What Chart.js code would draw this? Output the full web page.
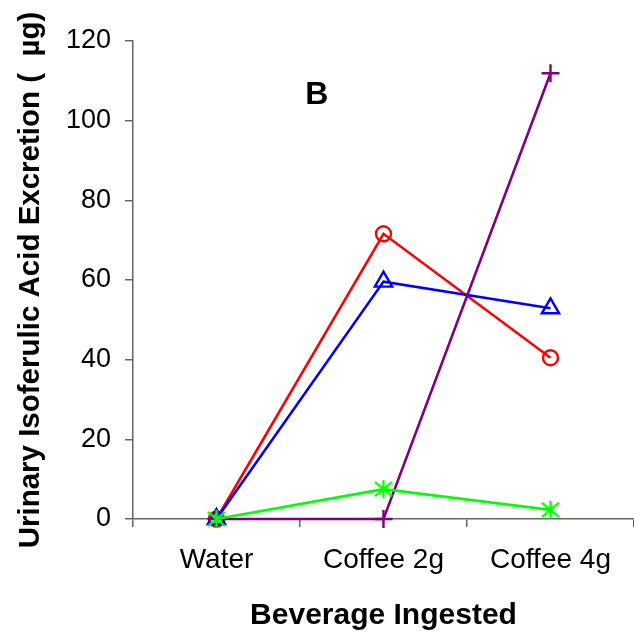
<!DOCTYPE html>
<html>
<head>
<meta charset="utf-8">
<script src="https://cdn.jsdelivr.net/npm/chart.js@4"></script>
<style>
html,body{margin:0;padding:0;background:#fff;}
#wrap{width:634px;height:634px;}
</style>
</head>
<body>
<div id="wrap"><canvas id="c" width="634" height="634"></canvas></div>
<script>
const categories = ['Water', 'Coffee 2g', 'Coffee 4g'];
const redCircle = [0, 71.6, 40.5];
const blueTriangle = [0, 59.6, 52.9];
const greenStar = [0, 7.5, 2.3];
const purplePlus = [0, 0, 111.9];
const yTicks = [0, 20, 40, 60, 80, 100, 120];
const panelLabel = 'B';
const panelLabelPos = { x: 0.6, y: 106.5 };

const FONT = '"Liberation Sans", Arial, sans-serif';

function asterisk(color) {
  const s = 24, c = document.createElement('canvas');
  c.width = s; c.height = s;
  const g = c.getContext('2d');
  g.strokeStyle = color; g.lineWidth = 2.4;
  const r = 9, m = s / 2;
  g.beginPath();
  g.moveTo(m, m - r); g.lineTo(m, m + r);
  const dx = r * 0.95, dy = r * 0.8;
  g.moveTo(m - dx, m - dy); g.lineTo(m + dx, m + dy);
  g.moveTo(m + dx, m - dy); g.lineTo(m - dx, m + dy);
  g.stroke();
  return c;
}

const labelPlugin = {
  id: 'panelLabel',
  afterDatasetsDraw(chart) {
    const ctx = chart.ctx;
    const x = chart.scales.x.getPixelForValue(panelLabelPos.x);
    const y = chart.scales.y.getPixelForValue(panelLabelPos.y);
    ctx.save();
    ctx.font = 'bold 32px ' + FONT;
    ctx.fillStyle = '#000';
    ctx.textAlign = 'center';
    ctx.textBaseline = 'middle';
    ctx.fillText(panelLabel, x, y);
    ctx.restore();
  }
};

const common = { borderWidth: 2.6, fill: false, tension: 0, clip: false, pointBorderWidth: 2.4, pointBackgroundColor: 'rgba(0,0,0,0)' };

new Chart(document.getElementById('c'), {
  type: 'line',
  data: {
    labels: categories,
    datasets: [
      Object.assign({}, common, { label: 'green', data: greenStar, borderColor: '#00FF00', pointStyle: asterisk('#00FF00'), pointRadius: 10 }),
      Object.assign({}, common, { label: 'purple', data: purplePlus, borderColor: '#800080', pointBorderColor: '#800080', pointStyle: 'cross', pointRadius: 9 }),
      Object.assign({}, common, { label: 'blue', data: blueTriangle, borderColor: '#0000FF', pointBorderColor: '#0000FF', pointStyle: 'triangle', pointRadius: 10 }),
      Object.assign({}, common, { label: 'red', data: redCircle, borderColor: '#FF0000', pointBorderColor: '#FF0000', pointStyle: 'circle', pointRadius: 7.5 })
    ]
  },
  options: {
    responsive: false,
    animation: false,
    layout: { autoPadding: false, padding: { top: 41, right: 0, left: 0, bottom: 0 } },
    plugins: { legend: { display: false }, tooltip: { enabled: false } },
    scales: {
      x: {
        type: 'category',
        offset: true,
        afterFit(s) { s.height = 115; s.paddingLeft = 0; s.paddingRight = 0; },
        border: { display: true, color: '#666', width: 1.5 },
        grid: { offset: true, drawOnChartArea: false, drawTicks: true, tickLength: 8, color: '#666', lineWidth: 1.5 },
        ticks: { color: '#000', font: { family: FONT, size: 28 }, padding: 16, maxRotation: 0 },
        title: { display: true, text: 'Beverage Ingested', color: '#000', font: { family: FONT, size: 30, weight: 'bold' }, padding: { top: 8, bottom: 0 } }
      },
      y: {
        min: 0, max: 120,
        afterFit(s) { s.width = 133; },
        afterBuildTicks(s) { s.ticks = yTicks.map(v => ({ value: v })); },
        border: { display: true, color: '#666', width: 1.5 },
        grid: { drawOnChartArea: false, drawTicks: true, tickLength: 8, color: '#666', lineWidth: 1.5 },
        ticks: { color: '#000', font: { family: FONT, size: 27 }, padding: 14 },
        title: { display: true, text: 'Urinary Isoferulic Acid Excretion (  µg)', color: '#000', font: { family: FONT, size: 29.5, weight: 'bold' }, padding: { top: 13, bottom: 0 } }
      }
    }
  },
  plugins: [labelPlugin]
});
</script>
</body>
</html>
